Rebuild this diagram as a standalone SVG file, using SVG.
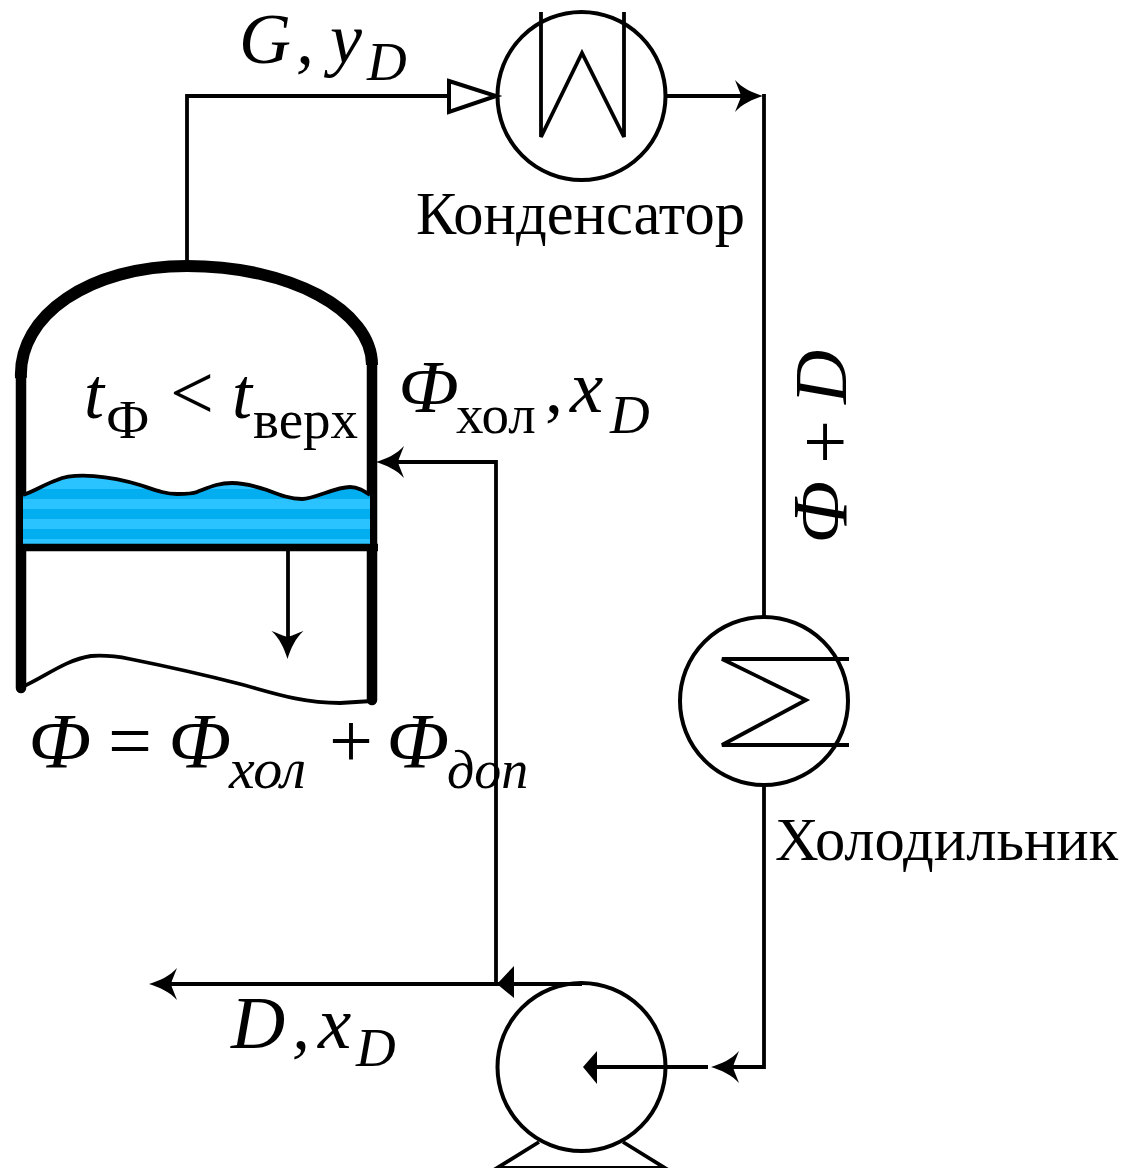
<svg xmlns="http://www.w3.org/2000/svg" width="1125" height="1168" viewBox="0 0 1125 1168">
<style>
.l{fill:none;stroke:#000;stroke-width:3.8;stroke-linejoin:miter}
.o{fill:none;stroke:#000;stroke-width:4}
.h{fill:#000;stroke:none}
.w{fill:none;stroke:#000;stroke-width:10.500;stroke-linecap:round}
text{font-family:"Liberation Serif","Times New Roman",serif;fill:#000}
.i{font-style:italic}
</style>
<defs>
<path id="ah" d="M0 0C-10 -3 -21 -8 -28 -16C-25 -8 -23 -4 -22 0C-23 4 -25 8 -28 16C-21 8 -10 3 0 0Z"/>
<clipPath id="water"><path d="M23 495C35 491 45 484 57 480C75 472 110 476 140 485C155 490 165 494 177 494C185 494 192 494 197 492C210 487 218 483 232 483C245 483 255 486 267 490C280 495 290 499 302 499C315 499 335 487 350 487C358 487 364 491 370 495V545H23Z"/></clipPath>
</defs>
<rect width="1125" height="1168" fill="#fff"/>
<g id="column">
<path d="M21 378C18 315 90 266 187 266C290 266 372 310 372 365" fill="none" stroke="#000" stroke-width="12"/>
<path d="M372 365V700M21 378V688" class="w"/>
<g clip-path="url(#water)">
<rect x="23" y="470" width="347" height="75" fill="#2ac2ff"/>
<path d="M23 489h347v10H23zM23 509h347v10H23zM23 529h347v10H23z" fill="#02aef0"/>
</g>
<path d="M23 495C35 491 45 484 57 480C75 472 110 476 140 485C155 490 165 494 177 494C185 494 192 494 197 492C210 487 218 483 232 483C245 483 255 486 267 490C280 495 290 499 302 499C315 499 335 487 350 487C358 487 364 491 370 495" class="l"/>
<path d="M16 547.500H378" fill="none" stroke="#000" stroke-width="7.500"/>
<path d="M22 687C45 677 65 660 91 656C105 655 120 657 130 659C170 667 205 675 240 684C270 692 300 703 340 703L372 701" class="l"/>
<path d="M288 549V640" class="l"/>
<use href="#ah" transform="translate(287.500 659)rotate(90)" class="h"/>
</g>
<g id="condenser">
<circle cx="581.500" cy="96" r="84" class="o"/>
<path d="M541 12V137L582 53L624 137V12" class="l" stroke-linejoin="round"/>
</g>
<g id="cooler">
<circle cx="764" cy="701" r="84" class="o"/>
<path d="M849 659H722L806 700L722 745H849" class="l"/>
</g>
<g id="pump">
<circle cx="581.500" cy="1067" r="84" class="o"/>
<path d="M539 1142L497 1168H665L623 1142" class="l"/>
</g>
<g id="connectors">
<path d="M187 262V96H449" class="l"/>
<path d="M449 81L496 96L449 112Z" class="o"/>
<path d="M666 96H745M764 94V616" class="l"/>
<use href="#ah" transform="translate(763 96)" class="h"/>
<path d="M764 785V1067H730M708 1067H585" class="l"/>
<use href="#ah" transform="translate(711 1067)rotate(180)" class="h"/>
<path d="M583 1067L597 1051V1084Z" class="h"/>
<path d="M582 984H170" class="l"/>
<path d="M497 984L514 966V998Z" class="h"/>
<use href="#ah" transform="translate(149 984)rotate(180)" class="h"/>
<path d="M496 984V462H396" class="l"/>
<use href="#ah" transform="translate(376 462)rotate(180)" class="h"/>
</g>
<g id="labels">
<text x="239" y="63" font-size="72" class="i">G</text><text x="296" y="63" font-size="72" class="i">,</text><text x="330" y="63" font-size="72" class="i">y</text><text x="367" y="80" font-size="55" class="i">D</text>
<text x="416" y="234" font-size="60.500">Конденсатор</text>
<text x="84" y="418" font-size="72" class="i">t</text><text x="106" y="438" font-size="55">Ф</text><text x="170" y="419" font-size="78">&lt;</text><text x="232" y="418" font-size="72" class="i">t</text><text x="253" y="438" font-size="55">верх</text>
<text x="398" y="412" font-size="75" class="i">Ф</text><text x="456" y="433" font-size="55">хол</text><text x="545" y="412" font-size="72">,</text><text x="570" y="412" font-size="75" class="i">x</text><text x="610" y="433" font-size="55" class="i">D</text>
<text x="28" y="767" font-size="78" class="i">Ф</text><text x="108" y="767" font-size="78">=</text><text x="168" y="767" font-size="78" class="i">Ф</text><text x="229" y="788" font-size="58" class="i">хол</text><text x="329" y="767" font-size="78">+</text><text x="386" y="767" font-size="78" class="i">Ф</text><text x="447" y="788" font-size="54" class="i">доп</text>
<text x="775" y="860" font-size="60.500">Холодильник</text>
<text x="231" y="1048" font-size="75" class="i">D</text><text x="292" y="1048" font-size="72" class="i">,</text><text x="318" y="1048" font-size="75" class="i">x</text><text x="356" y="1066" font-size="55" class="i">D</text>
<text transform="translate(846 544)rotate(-90)" font-size="78" class="i">Ф</text><text transform="translate(851 464)rotate(-90)" font-size="78">+</text><text transform="translate(846 404)rotate(-90)" font-size="75" class="i">D</text>
</g>
</svg>
